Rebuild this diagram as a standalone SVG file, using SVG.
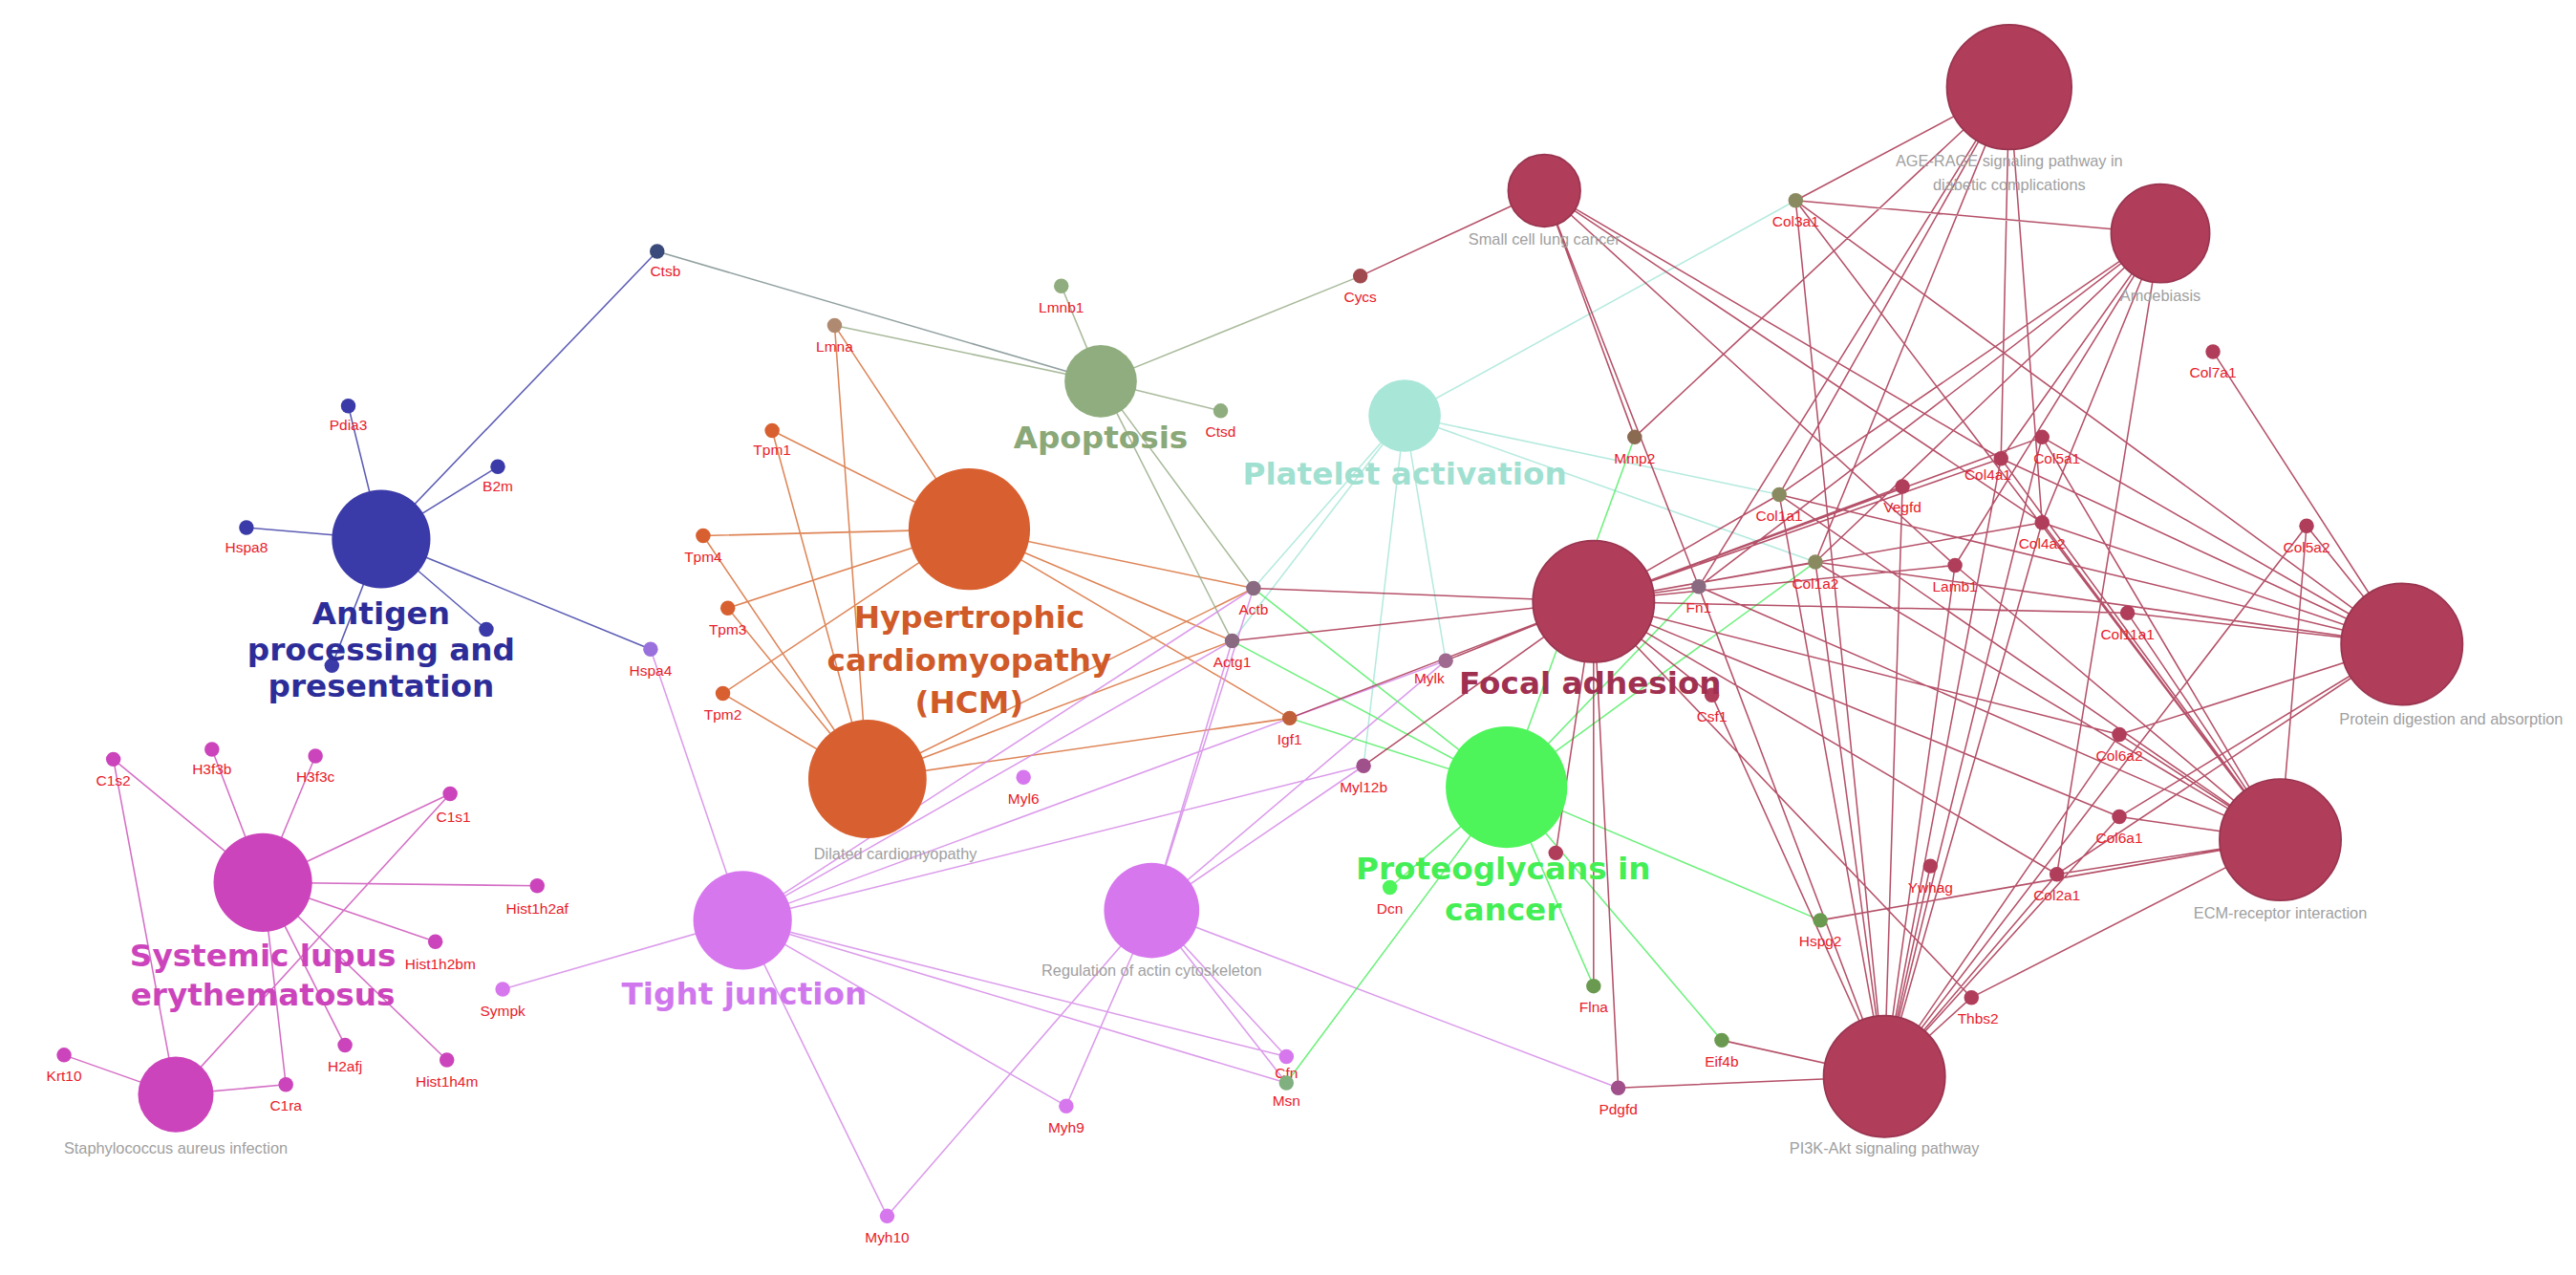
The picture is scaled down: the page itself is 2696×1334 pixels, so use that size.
<svg xmlns="http://www.w3.org/2000/svg" width="2696" height="1334" viewBox="0 0 2696 1334">
<style>
.e{fill:none;stroke-width:0.9;opacity:0.85}
.g{font-family:"Liberation Sans",Arial,sans-serif;font-size:9px;fill:#e8202a;text-anchor:middle}
.t{font-family:"Liberation Sans",Arial,sans-serif;font-size:9.5px;fill:#a0a0a0;text-anchor:middle}
.b{font-family:"DejaVu Sans",sans-serif;font-size:19px;font-weight:bold;text-anchor:middle}
.fa{fill:#b03d5a;stroke:#9a3550;stroke-width:1}
</style>
<rect width="2696" height="1334" fill="#fff"/>
<g transform="scale(1.7194)">
<g id="connectors">
<path class="e" stroke="#4040a8" d="M232 328L400 153M232 328L212 247M232 328L303 284M232 328L150 321M232 328L296 383M232 328L202 405M232 328L396 395"/>
<path class="e" stroke="#7f8f8f" d="M400 153L670 232"/>
<path class="e" stroke="#d8703a" d="M590 322L508 198M528 474L508 198M590 322L470 262M528 474L470 262M590 322L428 326M528 474L428 326M590 322L443 370M528 474L443 370M590 322L440 422M528 474L440 422M590 322L763 358M590 322L750 390M590 322L785 437M528 474L763 358M528 474L750 390M528 474L785 437"/>
<path class="e" stroke="#9aae8a" d="M670 232L508 198M670 232L646 174M670 232L743 250M670 232L828 168M670 232L763 358M670 232L750 390"/>
<path class="e" stroke="#a8e6d8" d="M855 253L1093 122M855 253L1083 301M855 253L1105 342M855 253L763 358M855 253L750 390M855 253L880 402M855 253L830 466"/>
<path class="e" stroke="#cc55bb" d="M160 537L69 462M160 537L129 456M160 537L192 460M160 537L274 483M160 537L327 539M160 537L265 573M160 537L210 636M160 537L272 645M160 537L174 660M107 666L39 642M107 666L174 660M107 666L69 462M107 666L274 483"/>
<path class="e" stroke="#d58ae8" d="M452 560L306 602M452 560L396 395M452 560L763 358M452 560L750 390M452 560L830 466M452 560L880 402M452 560L649 673M452 560L540 740M452 560L783 659M452 560L783 643M701 554L763 358M701 554L750 390M701 554L830 466M701 554L880 402M701 554L649 673M701 554L540 740M701 554L783 659M701 554L783 643M701 554L985 662"/>
<path class="e" stroke="#55ee66" d="M917 479L763 358M917 479L750 390M917 479L785 437M917 479L1034 357M917 479L995 266M917 479L1105 342M917 479L783 659M917 479L970 600M917 479L1048 633M917 479L1108 560M917 479L846 540"/>
<path class="e" stroke="#a8324f" d="M970 366L763 358M970 366L750 390M970 366L785 437M970 366L880 402M970 366L830 466M970 366L1034 357M970 366L1083 301M970 366L1105 342M970 366L1218 279M970 366L1243 318M970 366L1158 296M970 366L1190 344M970 366L1290 447M970 366L1290 497M970 366L1252 532M970 366L1200 607M970 366L970 600M970 366L985 662M970 366L947 519M970 366L1042 423M970 366L1243 266M970 366L1295 373
M940 116L828 168M940 116L1034 357M940 116L1218 279M940 116L1243 318M940 116L1190 344M940 116L995 266
M1223 53L1093 122M1223 53L1083 301M1223 53L1105 342M1223 53L1218 279M1223 53L1243 318M1223 53L1034 357M1223 53L995 266
M1315 142L1093 122M1315 142L1083 301M1315 142L1105 342M1315 142L1218 279M1315 142L1243 318M1315 142L1034 357M1315 142L1190 344M1315 142L1252 532
M1462 392L1083 301M1462 392L1105 342M1462 392L1093 122M1462 392L1218 279M1462 392L1243 318M1462 392L1243 266M1462 392L1404 320M1462 392L1347 214M1462 392L1295 373M1462 392L1290 497M1462 392L1290 447M1462 392L1252 532
M1388 511L1083 301M1388 511L1105 342M1388 511L1093 122M1388 511L1218 279M1388 511L1243 318M1388 511L1243 266M1388 511L1404 320M1388 511L1295 373M1388 511L1290 497M1388 511L1290 447M1388 511L1252 532M1388 511L1190 344M1388 511L1034 357M1388 511L1200 607M1388 511L1108 560
M1147 655L1083 301M1147 655L1105 342M1147 655L1093 122M1147 655L1218 279M1147 655L1243 318M1147 655L1243 266M1147 655L1404 320M1147 655L1290 497M1147 655L1290 447M1147 655L1252 532M1147 655L1190 344M1147 655L1034 357M1147 655L1200 607M1147 655L1158 296M1147 655L1175 527M1147 655L1042 423M1147 655L1048 633M1147 655L985 662"/>
</g>
<g id="term-antigen"><circle cx="232" cy="328" r="30" fill="#3a3aa8"/></g>
<g id="term-sle"><circle cx="160" cy="537" r="30" fill="#cc44bb"/></g>
<g id="term-staph"><circle cx="107" cy="666" r="23" fill="#cc44bb"/><text class="t" x="107" y="702">Staphylococcus aureus infection</text></g>
<g id="term-tight"><circle cx="452" cy="560" r="30" fill="#d777ee"/></g>
<g id="term-actin"><circle cx="701" cy="554" r="29" fill="#d777ee"/><text class="t" x="701" y="594">Regulation of actin cytoskeleton</text></g>
<g id="term-dcm"><circle cx="528" cy="474" r="36" fill="#d86030"/><text class="t" x="545" y="523">Dilated cardiomyopathy</text></g>
<g id="term-hcm"><circle cx="590" cy="322" r="37" fill="#d86030"/></g>
<g id="term-apoptosis"><circle cx="670" cy="232" r="22" fill="#8fad7e"/></g>
<g id="term-platelet"><circle cx="855" cy="253" r="22" fill="#a8e6d8"/></g>
<g id="term-focal"><circle class="fa" cx="970" cy="366" r="37"/></g>
<g id="term-proteo"><circle cx="917" cy="479" r="37" fill="#4df55a"/></g>
<g id="term-sclc"><circle class="fa" cx="940" cy="116" r="22"/><text class="t" x="940" y="149">Small cell lung cancer</text></g>
<g id="term-age"><circle class="fa" cx="1223" cy="53" r="38"/><text class="t" x="1223" y="101">AGE-RAGE signaling pathway in</text><text class="t" x="1223" y="116">diabetic complications</text></g>
<g id="term-amoeb"><circle class="fa" cx="1315" cy="142" r="30"/><text class="t" x="1315" y="183">Amoebiasis</text></g>
<g id="term-protein"><circle class="fa" cx="1462" cy="392" r="37"/><text class="t" x="1492" y="441">Protein digestion and absorption</text></g>
<g id="term-ecm"><circle class="fa" cx="1388" cy="511" r="37"/><text class="t" x="1388" y="559">ECM-receptor interaction</text></g>
<g id="term-pi3k"><circle class="fa" cx="1147" cy="655" r="37"/><text class="t" x="1147" y="702">PI3K-Akt signaling pathway</text></g>
<g id="genes">
<g id="n-ctsb"><circle cx="400" cy="153" r="4.5" fill="#3a4a7a"/><text class="g" x="405" y="168">Ctsb</text></g>
<g id="n-pdia3"><circle cx="212" cy="247" r="4.5" fill="#3a3aa8"/><text class="g" x="212" y="262">Pdia3</text></g>
<g id="n-b2m"><circle cx="303" cy="284" r="4.5" fill="#3a3aa8"/><text class="g" x="303" y="299">B2m</text></g>
<g id="n-hspa8"><circle cx="150" cy="321" r="4.5" fill="#3a3aa8"/><text class="g" x="150" y="336">Hspa8</text></g>
<g id="n-a1"><circle cx="296" cy="383" r="4.5" fill="#3a3aa8"/></g>
<g id="n-a2"><circle cx="202" cy="405" r="4.5" fill="#3a3aa8"/></g>
<g id="n-hspa4"><circle cx="396" cy="395" r="4.5" fill="#9a70dd"/><text class="g" x="396" y="411">Hspa4</text></g>
<g id="n-lmna"><circle cx="508" cy="198" r="4.5" fill="#b08a70"/><text class="g" x="508" y="214">Lmna</text></g>
<g id="n-tpm1"><circle cx="470" cy="262" r="4.5" fill="#d86030"/><text class="g" x="470" y="277">Tpm1</text></g>
<g id="n-tpm4"><circle cx="428" cy="326" r="4.5" fill="#d86030"/><text class="g" x="428" y="342">Tpm4</text></g>
<g id="n-tpm3"><circle cx="443" cy="370" r="4.5" fill="#d86030"/><text class="g" x="443" y="386">Tpm3</text></g>
<g id="n-tpm2"><circle cx="440" cy="422" r="4.5" fill="#d86030"/><text class="g" x="440" y="438">Tpm2</text></g>
<g id="n-lmnb1"><circle cx="646" cy="174" r="4.5" fill="#8fad7e"/><text class="g" x="646" y="190">Lmnb1</text></g>
<g id="n-ctsd"><circle cx="743" cy="250" r="4.5" fill="#8fad7e"/><text class="g" x="743" y="266">Ctsd</text></g>
<g id="n-cycs"><circle cx="828" cy="168" r="4.5" fill="#a04a50"/><text class="g" x="828" y="184">Cycs</text></g>
<g id="n-actb"><circle cx="763" cy="358" r="4.5" fill="#8a6a80"/><text class="g" x="763" y="374">Actb</text></g>
<g id="n-actg1"><circle cx="750" cy="390" r="4.5" fill="#8a6a80"/><text class="g" x="750" y="406">Actg1</text></g>
<g id="n-mylk"><circle cx="880" cy="402" r="4.5" fill="#a06a90"/><text class="g" x="870" y="416">Mylk</text></g>
<g id="n-igf1"><circle cx="785" cy="437" r="4.5" fill="#c0603a"/><text class="g" x="785" y="453">Igf1</text></g>
<g id="n-myl12b"><circle cx="830" cy="466" r="4.5" fill="#a0508a"/><text class="g" x="830" y="482">Myl12b</text></g>
<g id="n-myl6"><circle cx="623" cy="473" r="4.5" fill="#d777ee"/><text class="g" x="623" y="489">Myl6</text></g>
<g id="n-sympk"><circle cx="306" cy="602" r="4.5" fill="#d777ee"/><text class="g" x="306" y="618">Sympk</text></g>
<g id="n-myh9"><circle cx="649" cy="673" r="4.5" fill="#d777ee"/><text class="g" x="649" y="689">Myh9</text></g>
<g id="n-myh10"><circle cx="540" cy="740" r="4.5" fill="#d777ee"/><text class="g" x="540" y="756">Myh10</text></g>
<g id="n-cfl"><circle cx="783" cy="643" r="4.5" fill="#d777ee"/><text class="g" x="783" y="656">Cfn</text></g>
<g id="n-msn"><circle cx="783" cy="659" r="4.5" fill="#80b080"/><text class="g" x="783" y="673">Msn</text></g>
<g id="n-pdgfd"><circle cx="985" cy="662" r="4.5" fill="#a0508a"/><text class="g" x="985" y="678">Pdgfd</text></g>
<g id="n-eif4b"><circle cx="1048" cy="633" r="4.5" fill="#6a9a50"/><text class="g" x="1048" y="649">Eif4b</text></g>
<g id="n-flna"><circle cx="970" cy="600" r="4.5" fill="#6a9a50"/><text class="g" x="970" y="616">Flna</text></g>
<g id="n-dcn"><circle cx="846" cy="540" r="4.5" fill="#4df55a"/><text class="g" x="846" y="556">Dcn</text></g>
<g id="n-hspg2"><circle cx="1108" cy="560" r="4.5" fill="#6a9a50"/><text class="g" x="1108" y="576">Hspg2</text></g>
<g id="n-csf1"><circle cx="1042" cy="423" r="4.5" fill="#b03d5a"/><text class="g" x="1042" y="439">Csf1</text></g>
<g id="n-fx"><circle cx="947" cy="519" r="4.5" fill="#b03d5a"/></g>
<g id="n-mmp2"><circle cx="995" cy="266" r="4.5" fill="#8a6a50"/><text class="g" x="995" y="282">Mmp2</text></g>
<g id="n-col1a1"><circle cx="1083" cy="301" r="4.5" fill="#8a8a60"/><text class="g" x="1083" y="317">Col1a1</text></g>
<g id="n-col1a2"><circle cx="1105" cy="342" r="4.5" fill="#8a8a60"/><text class="g" x="1105" y="358">Col1a2</text></g>
<g id="n-fn1"><circle cx="1034" cy="357" r="4.5" fill="#8a6a80"/><text class="g" x="1034" y="373">Fn1</text></g>
<g id="n-vegfd"><circle cx="1158" cy="296" r="4.5" fill="#b03d5a"/><text class="g" x="1158" y="312">Vegfd</text></g>
<g id="n-col4a1"><circle cx="1218" cy="279" r="4.5" fill="#b03d5a"/><text class="g" x="1210" y="292">Col4a1</text></g>
<g id="n-col5a1"><circle cx="1243" cy="266" r="4.5" fill="#b03d5a"/><text class="g" x="1252" y="282">Col5a1</text></g>
<g id="n-col4a2"><circle cx="1243" cy="318" r="4.5" fill="#b03d5a"/><text class="g" x="1243" y="334">Col4a2</text></g>
<g id="n-lamb1"><circle cx="1190" cy="344" r="4.5" fill="#b03d5a"/><text class="g" x="1190" y="360">Lamb1</text></g>
<g id="n-col11a1"><circle cx="1295" cy="373" r="4.5" fill="#b03d5a"/><text class="g" x="1295" y="389">Col11a1</text></g>
<g id="n-col5a2"><circle cx="1404" cy="320" r="4.5" fill="#b03d5a"/><text class="g" x="1404" y="336">Col5a2</text></g>
<g id="n-col7a1"><circle cx="1347" cy="214" r="4.5" fill="#b03d5a"/><text class="g" x="1347" y="230">Col7a1</text></g>
<g id="n-col3a1"><circle cx="1093" cy="122" r="4.5" fill="#8a8a60"/><text class="g" x="1093" y="138">Col3a1</text></g>
<g id="n-col6a2"><circle cx="1290" cy="447" r="4.5" fill="#b03d5a"/><text class="g" x="1290" y="463">Col6a2</text></g>
<g id="n-col6a1"><circle cx="1290" cy="497" r="4.5" fill="#b03d5a"/><text class="g" x="1290" y="513">Col6a1</text></g>
<g id="n-col2a1"><circle cx="1252" cy="532" r="4.5" fill="#b03d5a"/><text class="g" x="1252" y="548">Col2a1</text></g>
<g id="n-ywhag"><circle cx="1175" cy="527" r="4.5" fill="#b03d5a"/><text class="g" x="1175" y="543">Ywhag</text></g>
<g id="n-thbs2"><circle cx="1200" cy="607" r="4.5" fill="#b03d5a"/><text class="g" x="1204" y="623">Thbs2</text></g>
<g id="n-c1s2"><circle cx="69" cy="462" r="4.5" fill="#cc44bb"/><text class="g" x="69" y="478">C1s2</text></g>
<g id="n-h3f3b"><circle cx="129" cy="456" r="4.5" fill="#cc44bb"/><text class="g" x="129" y="471">H3f3b</text></g>
<g id="n-h3f3c"><circle cx="192" cy="460" r="4.5" fill="#cc44bb"/><text class="g" x="192" y="476">H3f3c</text></g>
<g id="n-c1s1"><circle cx="274" cy="483" r="4.5" fill="#cc44bb"/><text class="g" x="276" y="500">C1s1</text></g>
<g id="n-hist1h2af"><circle cx="327" cy="539" r="4.5" fill="#cc44bb"/><text class="g" x="327" y="556">Hist1h2af</text></g>
<g id="n-hist1h2bm"><circle cx="265" cy="573" r="4.5" fill="#cc44bb"/><text class="g" x="268" y="590">Hist1h2bm</text></g>
<g id="n-h2afj"><circle cx="210" cy="636" r="4.5" fill="#cc44bb"/><text class="g" x="210" y="652">H2afj</text></g>
<g id="n-hist1h4m"><circle cx="272" cy="645" r="4.5" fill="#cc44bb"/><text class="g" x="272" y="661">Hist1h4m</text></g>
<g id="n-c1ra"><circle cx="174" cy="660" r="4.5" fill="#cc44bb"/><text class="g" x="174" y="676">C1ra</text></g>
<g id="n-krt10"><circle cx="39" cy="642" r="4.5" fill="#cc44bb"/><text class="g" x="39" y="658">Krt10</text></g>
</g>
<g id="term-labels">
<text class="b" fill="#2d2d99"><tspan x="232" y="380">Antigen</tspan><tspan x="232" y="402">processing and</tspan><tspan x="232" y="424">presentation</tspan></text>
<text class="b" fill="#cc44bb"><tspan x="160" y="588">Systemic lupus</tspan><tspan x="160" y="612">erythematosus</tspan></text>
<text class="b" fill="#d077ee" x="453" y="611">Tight junction</text>
<text class="b" fill="#d05a28"><tspan x="590" y="382">Hypertrophic</tspan><tspan x="590" y="408">cardiomyopathy</tspan><tspan x="590" y="434">(HCM)</tspan></text>
<text class="b" fill="#8aa878" x="670" y="273">Apoptosis</text>
<text class="b" fill="#9fe0d0" x="855" y="295">Platelet activation</text>
<text class="b" fill="#a03050" x="968" y="422">Focal adhesion</text>
<text class="b" fill="#44ee55"><tspan x="915" y="535">Proteoglycans in</tspan><tspan x="915" y="560">cancer</tspan></text>
</g>
</g>
</svg>
